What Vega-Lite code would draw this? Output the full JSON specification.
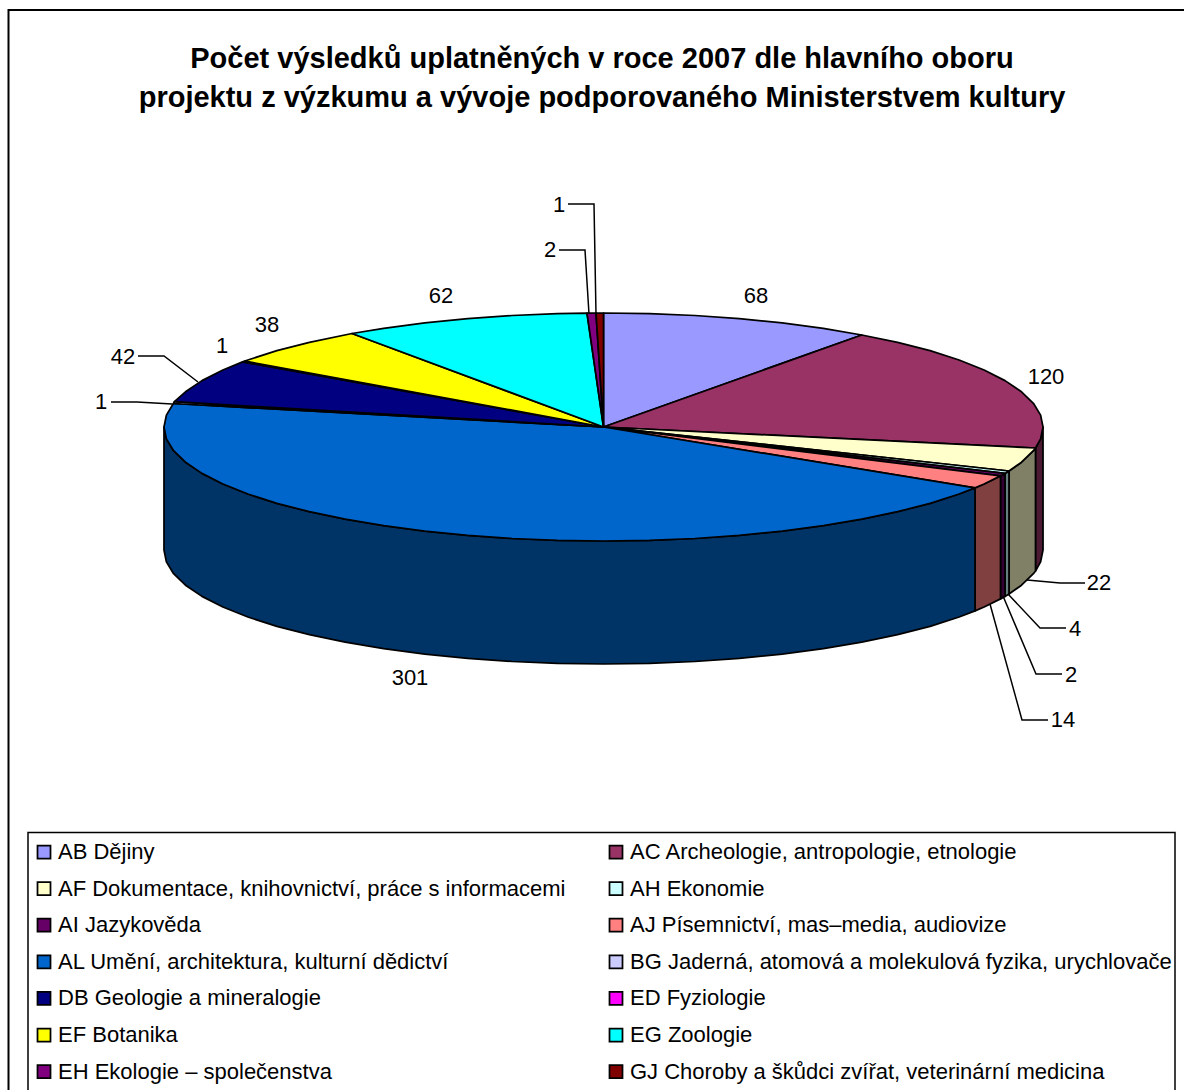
{
"$schema":"https://vega.github.io/schema/vega-lite/v6.json",
"width":1184,"height":1090,"padding":0,"autosize":{"type":"none"},"background":"white",
"config":{"view":{"stroke":null},"font":"Liberation Sans"},
"title":{"text":["Počet výsledků uplatněných v roce 2007 dle hlavního oboru","projektu z výzkumu a vývoje podporovaného Ministerstvem kultury"],"orient":"top","anchor":"middle","frame":"group","font":"Liberation Sans","fontSize":29,"fontWeight":"bold","lineHeight":39,"color":"#000","offset":-142,"baseline":"bottom","dx":10},
"datasets":{
"ramecek":[{"x":8.5,"y":10,"x2":1300,"y2":1300}],
"ramecekLegendy":[{"x":28,"y":832.5,"x2":1175,"y2":1300}],
"stena":[
{"o":"AC","x":1043,"y":427,"dolni":550},{"o":"AC","x":1040.6,"y":438.9,"dolni":561.9},{"o":"AC","x":1035.5,"y":448,"dolni":571},
{"o":"AF","x":1035.5,"y":448,"dolni":571},{"o":"AF","x":1033.4,"y":450.7,"dolni":573.7},{"o":"AF","x":1021.5,"y":462.2,"dolni":585.2},{"o":"AF","x":1009,"y":471,"dolni":594},
{"o":"AH","x":1009,"y":471,"dolni":594},{"o":"AH","x":1005,"y":473.4,"dolni":596.4},
{"o":"AI","x":1005,"y":473.4,"dolni":596.4},{"o":"AI","x":1000.5,"y":475.9,"dolni":598.9},
{"o":"AJ","x":1000.5,"y":475.9,"dolni":598.9},{"o":"AJ","x":984.1,"y":484,"dolni":607},{"o":"AJ","x":975,"y":487.9,"dolni":610.9},
{"o":"AL","x":975,"y":487.9,"dolni":610.9},{"o":"AL","x":959.1,"y":494,"dolni":617},{"o":"AL","x":930.1,"y":503.3,"dolni":626.3},{"o":"AL","x":897.6,"y":511.7,"dolni":634.7},{"o":"AL","x":861.8,"y":519.2,"dolni":642.2},{"o":"AL","x":823.3,"y":525.7,"dolni":648.7},{"o":"AL","x":782.2,"y":531.1,"dolni":654.1},{"o":"AL","x":739.3,"y":535.4,"dolni":658.4},{"o":"AL","x":694.9,"y":538.5,"dolni":661.5},{"o":"AL","x":649.4,"y":540.4,"dolni":663.4},{"o":"AL","x":603.5,"y":541,"dolni":664},{"o":"AL","x":557.6,"y":540.4,"dolni":663.4},{"o":"AL","x":512.1,"y":538.5,"dolni":661.5},{"o":"AL","x":467.7,"y":535.4,"dolni":658.4},{"o":"AL","x":424.8,"y":531.1,"dolni":654.1},{"o":"AL","x":383.7,"y":525.7,"dolni":648.7},{"o":"AL","x":345.2,"y":519.2,"dolni":642.2},{"o":"AL","x":309.4,"y":511.7,"dolni":634.7},{"o":"AL","x":276.9,"y":503.3,"dolni":626.3},{"o":"AL","x":247.9,"y":494,"dolni":617},{"o":"AL","x":222.9,"y":484,"dolni":607},{"o":"AL","x":202,"y":473.4,"dolni":596.4},{"o":"AL","x":185.5,"y":462.2,"dolni":585.2},{"o":"AL","x":173.6,"y":450.7,"dolni":573.7},{"o":"AL","x":166.4,"y":438.9,"dolni":561.9},{"o":"AL","x":164,"y":427,"dolni":550}
],
"vrch":[
{"o":"AB","i":0,"x":603.5,"y":427},{"o":"AB","i":1,"x":603.5,"y":313},{"o":"AB","i":2,"x":649.4,"y":313.6},{"o":"AB","i":3,"x":694.9,"y":315.5},{"o":"AB","i":4,"x":739.3,"y":318.6},{"o":"AB","i":5,"x":782.2,"y":322.9},{"o":"AB","i":6,"x":823.3,"y":328.3},{"o":"AB","i":7,"x":861.8,"y":335},
{"o":"AC","i":0,"x":603.5,"y":427},{"o":"AC","i":1,"x":861.8,"y":335},{"o":"AC","i":2,"x":897.6,"y":342.3},{"o":"AC","i":3,"x":930.1,"y":350.7},{"o":"AC","i":4,"x":959.1,"y":360},{"o":"AC","i":5,"x":984.1,"y":370},{"o":"AC","i":6,"x":1005,"y":380.6},{"o":"AC","i":7,"x":1021.5,"y":391.8},{"o":"AC","i":8,"x":1033.4,"y":403.3},{"o":"AC","i":9,"x":1040.6,"y":415.1},{"o":"AC","i":10,"x":1043,"y":427},{"o":"AC","i":11,"x":1040.6,"y":438.9},{"o":"AC","i":12,"x":1035.5,"y":448},
{"o":"AF","i":0,"x":603.5,"y":427},{"o":"AF","i":1,"x":1035.5,"y":448},{"o":"AF","i":2,"x":1033.4,"y":450.7},{"o":"AF","i":3,"x":1021.5,"y":462.2},{"o":"AF","i":4,"x":1009,"y":471},
{"o":"AH","i":0,"x":603.5,"y":427},{"o":"AH","i":1,"x":1009,"y":471},{"o":"AH","i":2,"x":1005,"y":473.4},
{"o":"AI","i":0,"x":603.5,"y":427},{"o":"AI","i":1,"x":1005,"y":473.4},{"o":"AI","i":2,"x":1000.5,"y":475.9},
{"o":"AJ","i":0,"x":603.5,"y":427},{"o":"AJ","i":1,"x":1000.5,"y":475.9},{"o":"AJ","i":2,"x":984.1,"y":484},{"o":"AJ","i":3,"x":975,"y":487.9},
{"o":"AL","i":0,"x":603.5,"y":427},{"o":"AL","i":1,"x":975,"y":487.9},{"o":"AL","i":2,"x":959.1,"y":494},{"o":"AL","i":3,"x":930.1,"y":503.3},{"o":"AL","i":4,"x":897.6,"y":511.7},{"o":"AL","i":5,"x":861.8,"y":519.2},{"o":"AL","i":6,"x":823.3,"y":525.7},{"o":"AL","i":7,"x":782.2,"y":531.1},{"o":"AL","i":8,"x":739.3,"y":535.4},{"o":"AL","i":9,"x":694.9,"y":538.5},{"o":"AL","i":10,"x":649.4,"y":540.4},{"o":"AL","i":11,"x":603.5,"y":541},{"o":"AL","i":12,"x":557.6,"y":540.4},{"o":"AL","i":13,"x":512.1,"y":538.5},{"o":"AL","i":14,"x":467.7,"y":535.4},{"o":"AL","i":15,"x":424.8,"y":531.1},{"o":"AL","i":16,"x":383.7,"y":525.7},{"o":"AL","i":17,"x":345.2,"y":519.2},{"o":"AL","i":18,"x":309.4,"y":511.7},{"o":"AL","i":19,"x":276.9,"y":503.3},{"o":"AL","i":20,"x":247.9,"y":494},{"o":"AL","i":21,"x":222.9,"y":484},{"o":"AL","i":22,"x":202,"y":473.4},{"o":"AL","i":23,"x":185.5,"y":462.2},{"o":"AL","i":24,"x":173.6,"y":450.7},{"o":"AL","i":25,"x":166.4,"y":438.9},{"o":"AL","i":26,"x":164,"y":427},{"o":"AL","i":27,"x":166.4,"y":415.1},{"o":"AL","i":28,"x":173.4,"y":403.5},
{"o":"BG","i":0,"x":603.5,"y":427},{"o":"BG","i":1,"x":173.4,"y":403.5},{"o":"BG","i":2,"x":174.4,"y":401.7},
{"o":"DB","i":0,"x":603.5,"y":427},{"o":"DB","i":1,"x":174.4,"y":401.7},{"o":"DB","i":2,"x":185.5,"y":391.8},{"o":"DB","i":3,"x":202,"y":380.6},{"o":"DB","i":4,"x":222.9,"y":370},{"o":"DB","i":5,"x":242.6,"y":361.9},
{"o":"ED","i":0,"x":603.5,"y":427},{"o":"ED","i":1,"x":242.6,"y":361.9},{"o":"ED","i":2,"x":244.8,"y":361.1},
{"o":"EF","i":0,"x":603.5,"y":427},{"o":"EF","i":1,"x":244.8,"y":361.1},{"o":"EF","i":2,"x":247.9,"y":360},{"o":"EF","i":3,"x":276.9,"y":350.7},{"o":"EF","i":4,"x":309.4,"y":342.3},{"o":"EF","i":5,"x":352,"y":333.5},
{"o":"EG","i":0,"x":603.5,"y":427},{"o":"EG","i":1,"x":352,"y":333.5},{"o":"EG","i":2,"x":383.7,"y":328.3},{"o":"EG","i":3,"x":424.8,"y":322.9},{"o":"EG","i":4,"x":467.7,"y":318.6},{"o":"EG","i":5,"x":512.1,"y":315.5},{"o":"EG","i":6,"x":557.6,"y":313.6},{"o":"EG","i":7,"x":587,"y":313.2},
{"o":"EH","i":0,"x":603.5,"y":427},{"o":"EH","i":1,"x":587,"y":313.2},{"o":"EH","i":2,"x":596,"y":313},
{"o":"GJ","i":0,"x":603.5,"y":427},{"o":"GJ","i":1,"x":596,"y":313},{"o":"GJ","i":2,"x":603.5,"y":313}
],
"vodici":[
{"o":"GJ","i":0,"x":568,"y":204},{"o":"GJ","i":1,"x":594,"y":204},{"o":"GJ","i":2,"x":596,"y":314},
{"o":"EH","i":0,"x":559,"y":250},{"o":"EH","i":1,"x":585,"y":250},{"o":"EH","i":2,"x":589,"y":314},
{"o":"DB","i":0,"x":138,"y":356},{"o":"DB","i":1,"x":164,"y":356},{"o":"DB","i":2,"x":198,"y":382},
{"o":"BG","i":0,"x":111,"y":402},{"o":"BG","i":1,"x":137,"y":402},{"o":"BG","i":2,"x":172,"y":404},
{"o":"AF","i":0,"x":1085,"y":583},{"o":"AF","i":1,"x":1060,"y":583},{"o":"AF","i":2,"x":1027,"y":580},
{"o":"AH","i":0,"x":1066,"y":628},{"o":"AH","i":1,"x":1040,"y":628},{"o":"AH","i":2,"x":1008,"y":594},
{"o":"AI","i":0,"x":1062,"y":674},{"o":"AI","i":1,"x":1036,"y":674},{"o":"AI","i":2,"x":1003,"y":596},
{"o":"AJ","i":0,"x":1048,"y":720},{"o":"AJ","i":1,"x":1022,"y":720},{"o":"AJ","i":2,"x":990,"y":604}
],
"popisky":[
{"o":"AB","pocet":68,"x":756,"y":296},{"o":"AC","pocet":120,"x":1046,"y":377},{"o":"AF","pocet":22,"x":1099,"y":583},{"o":"AH","pocet":4,"x":1075,"y":629},{"o":"AI","pocet":2,"x":1071,"y":675},{"o":"AJ","pocet":14,"x":1063,"y":720},{"o":"AL","pocet":301,"x":410,"y":678},{"o":"BG","pocet":1,"x":101,"y":402},{"o":"DB","pocet":42,"x":123,"y":357},{"o":"ED","pocet":1,"x":222,"y":346},{"o":"EF","pocet":38,"x":267,"y":325},{"o":"EG","pocet":62,"x":441,"y":296},{"o":"EH","pocet":2,"x":550,"y":250},{"o":"GJ","pocet":1,"x":559,"y":205}
]
},
"layer":[
{"data":{"name":"ramecek"},"mark":{"type":"rect","fill":null,"stroke":"#000","strokeWidth":2},
"encoding":{"x":{"field":"x","type":"quantitative","axis":null,"scale":{"domain":[0,1184]}},"y":{"field":"y","type":"quantitative","axis":null,"scale":{"domain":[1090,0]}},"x2":{"field":"x2"},"y2":{"field":"y2"}}},
{"data":{"name":"ramecekLegendy"},"mark":{"type":"rect","fill":null,"stroke":"#000","strokeWidth":1.5},
"encoding":{"x":{"field":"x","type":"quantitative","axis":null,"scale":{"domain":[0,1184]}},"y":{"field":"y","type":"quantitative","axis":null,"scale":{"domain":[1090,0]}},"x2":{"field":"x2"},"y2":{"field":"y2"}}},
{"data":{"name":"stena"},"mark":{"type":"area","stroke":"#000","strokeWidth":1.75,"strokeJoin":"round"},
"encoding":{"x":{"field":"x","type":"quantitative","axis":null,"scale":{"domain":[0,1184]}},"y":{"field":"y","type":"quantitative","axis":null,"scale":{"domain":[1090,0]}},"y2":{"field":"dolni"},
"color":{"field":"o","type":"nominal","legend":null,"scale":{"domain":["AC","AF","AH","AI","AJ","AL"],"range":["#4D1A33","#808066","#668080","#330033","#804040","#003366"]}}}},
{"data":{"name":"vrch"},"mark":{"type":"line","interpolate":"linear-closed","stroke":"#000","strokeWidth":1.75,"strokeJoin":"round"},
"encoding":{"x":{"field":"x","type":"quantitative","axis":null,"scale":{"domain":[0,1184]}},"y":{"field":"y","type":"quantitative","axis":null,"scale":{"domain":[1090,0]}},"order":{"field":"i"},"detail":{"field":"o"},
"fill":{"field":"o","type":"nominal","scale":{"domain":["AB","AC","AF","AH","AI","AJ","AL","BG","DB","ED","EF","EG","EH","GJ"],"range":["#9999FF","#993366","#FFFFCC","#CCFFFF","#660066","#FF8080","#0066CC","#CCCCFF","#000080","#FF00FF","#FFFF00","#00FFFF","#800080","#800000"]},
"legend":{"title":null,"orient":"none","legendX":24,"legendY":832,"direction":"horizontal","columns":2,"gridAlign":"each","symbolType":"square","symbolSize":169,"symbolStrokeColor":"#000","symbolStrokeWidth":1.75,"labelFont":"Liberation Sans","labelFontSize":22,"labelColor":"#000","labelLimit":600,"labelOffset":3,"rowPadding":14.6,"columnPadding":39,"padding":9,
"labelExpr":"{'AB':'AB Dějiny','AC':'AC Archeologie, antropologie, etnologie','AF':'AF Dokumentace, knihovnictví, práce s informacemi','AH':'AH Ekonomie','AI':'AI Jazykověda','AJ':'AJ Písemnictví, mas–media, audiovize','AL':'AL Umění, architektura, kulturní dědictví','BG':'BG Jaderná, atomová a molekulová fyzika, urychlovače','DB':'DB Geologie a mineralogie','ED':'ED Fyziologie','EF':'EF Botanika','EG':'EG Zoologie','EH':'EH Ekologie – společenstva','GJ':'GJ Choroby a škůdci zvířat, veterinární medicina'}[datum.label]"}}}},
{"data":{"name":"vodici"},"mark":{"type":"line","stroke":"#000","strokeWidth":1.5},
"encoding":{"x":{"field":"x","type":"quantitative","axis":null,"scale":{"domain":[0,1184]}},"y":{"field":"y","type":"quantitative","axis":null,"scale":{"domain":[1090,0]}},"order":{"field":"i"},"detail":{"field":"o"}}},
{"data":{"name":"popisky"},"mark":{"type":"text","font":"Liberation Sans","fontSize":22,"color":"#000","align":"center","baseline":"middle"},
"encoding":{"x":{"field":"x","type":"quantitative","axis":null,"scale":{"domain":[0,1184]}},"y":{"field":"y","type":"quantitative","axis":null,"scale":{"domain":[1090,0]}},"text":{"field":"pocet","type":"quantitative"}}}
]
}
